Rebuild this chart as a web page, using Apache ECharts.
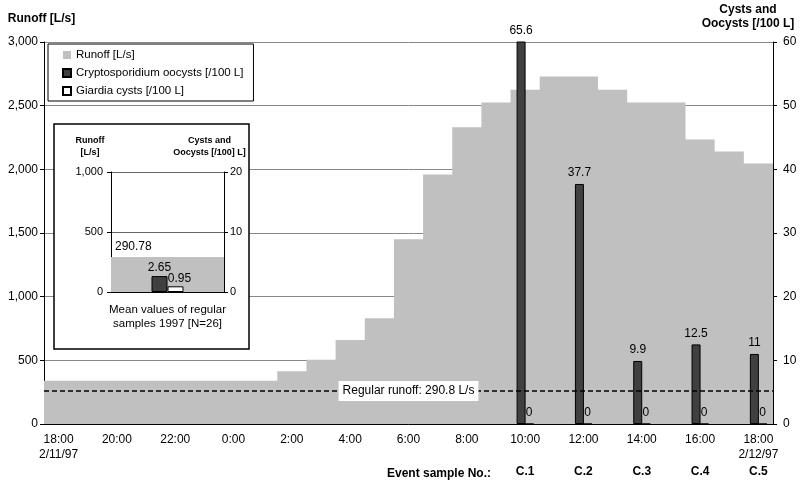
<!DOCTYPE html>
<html>
<head>
<meta charset="utf-8">
<script src="https://cdn.jsdelivr.net/npm/echarts@6/dist/echarts.min.js"></script>
<style>
  html, body { margin: 0; padding: 0; background: #fff; }
  #main { width: 800px; height: 486px; }
</style>
</head>
<body>
<div id="main"></div>
<script>
// hourly categories, 18:00 2/11/97 to 18:00 2/12/97
var hours = ['18:00\n2/11/97', '19:00', '20:00', '21:00', '22:00', '23:00', '0:00', '1:00',
  '2:00', '3:00', '4:00', '5:00', '6:00', '7:00', '8:00', '9:00', '10:00', '11:00',
  '12:00', '13:00', '14:00', '15:00', '16:00', '17:00', '18:00\n2/12/97'];
// runoff [L/s] per hour
var runoff = [340, 340, 340, 340, 340, 340, 340, 340,
  415, 505, 660, 830, 1450, 1960, 2330, 2525, 2625, 2730,
  2730, 2625, 2525, 2525, 2235, 2140, 2045];
// event samples
var sampleIdx = [16, 18, 20, 22, 24];
var sampleNames = ['C.1', 'C.2', 'C.3', 'C.4', 'C.5'];
var cryptoEvent = [65.6, 37.7, 9.9, 12.5, 11];
var giardiaEvent = [0, 0, 0, 0, 0];
// regular samples (inset)
var regularCategory = ['Mean values of regular\nsamples 1997 [N=26]'];
var regularRunoff = [290.78];
var regularCrypto = [2.65];
var regularGiardia = [0.95];
var regularLineValue = 260;
var regularLineText = 'Regular runoff: 290.8 L/s';

var names = ['Runoff [L/s]', 'Cryptosporidium oocysts [/100 L]', 'Giardia cysts [/100 L]'];
var FONT = 'Liberation Sans, Arial, sans-serif';

// put the event values into hourly slots
function toHourly(vals) {
  var arr = hours.map(function () { return null; });
  sampleIdx.forEach(function (idx, i) { arr[idx] = vals[i]; });
  return arr;
}
var eventLabels = hours.map(function () { return ''; });
sampleIdx.forEach(function (idx, i) { eventLabels[idx] = sampleNames[i]; });

// runoff as a step area over hour slots [i, i+1]
var runoffSteps = runoff.map(function (v, i) { return [i, v]; });
runoffSteps.push([runoff.length, runoff[runoff.length - 1]]);

var chart = echarts.init(document.getElementById('main'), null, { renderer: 'canvas' });

var gray = '#c0c0c0';
var dark = '#404040';

var option = {
  animation: false,
  textStyle: { fontFamily: FONT },
  legend: {
    left: 48,
    top: 44,
    orient: 'vertical',
    selectedMode: false,
    data: names,
    icon: 'rect',
    itemWidth: 8,
    itemHeight: 8,
    itemGap: 4,
    padding: [4, 10, 3, 14],
    backgroundColor: '#fff',
    borderColor: '#000',
    borderWidth: 1,
    textStyle: { fontSize: 11.5, color: '#000', lineHeight: 14, fontFamily: FONT },
    z: 5
  },
  grid: [
    { left: 44, right: 27, top: 42, bottom: 62, outerBoundsMode: 'none', containLabel: false },
    // inset
    { left: 111, right: 576, top: 172, bottom: 194, outerBoundsMode: 'none', containLabel: false }
  ],
  xAxis: [
    {
      type: 'category',
      gridIndex: 0,
      data: hours,
      boundaryGap: true,
      axisLine: { lineStyle: { color: '#000' } },
      axisTick: { interval: 0, length: 5, lineStyle: { color: '#000' } },
      axisLabel: { interval: 1, color: '#000', fontSize: 12, lineHeight: 15, margin: 8 },
      splitLine: { show: false },
      z: 3
    },
    {
      type: 'category',
      gridIndex: 0,
      data: hours,
      position: 'bottom',
      offset: 34,
      axisLine: { show: false },
      axisTick: { show: false },
      splitLine: { show: false },
      axisLabel: {
        interval: 0,
        color: '#000',
        fontSize: 12,
        fontWeight: 'bold',
        formatter: function (v, i) { return eventLabels[i]; }
      }
    },
    {
      type: 'category',
      gridIndex: 1,
      data: regularCategory,
      z: 3,
      axisLine: { lineStyle: { color: '#000' } },
      axisTick: { show: false },
      splitLine: { show: false },
      axisLabel: { color: '#000', fontSize: 11.5, lineHeight: 14, margin: 11 }
    },
    {
      type: 'category',
      gridIndex: 1,
      data: regularCategory,
      show: false
    },
    {
      // hour scale for the runoff steps
      type: 'value',
      gridIndex: 0,
      min: 0,
      max: hours.length,
      show: false
    }
  ],
  yAxis: [
    {
      type: 'value',
      gridIndex: 0,
      min: 0, max: 3000, interval: 500,
      name: 'Runoff [L/s]',
      nameGap: 17,
      nameTextStyle: { fontWeight: 'bold', fontSize: 12, color: '#000', align: 'center', padding: [0, 5, 0, 0] },
      axisLine: { show: true, lineStyle: { color: '#000' } },
      axisTick: { show: true, length: 4, lineStyle: { color: '#000' } },
      axisLabel: {
        color: '#000', fontSize: 12, margin: 6,
        formatter: function (v) { return v.toLocaleString('en-US'); }
      },
      splitLine: { lineStyle: { color: '#888' } }
    },
    {
      type: 'value',
      gridIndex: 0,
      min: 0, max: 60, interval: 10,
      position: 'right',
      z: 3,
      axisLine: { show: true, lineStyle: { color: '#000' } },
      axisTick: { show: true, length: 4, lineStyle: { color: '#000' } },
      axisLabel: { color: '#000', fontSize: 12, margin: 10 },
      splitLine: { show: false }
    },
    {
      type: 'value',
      gridIndex: 1,
      min: 0, max: 1000, interval: 500,
      z: 3,
      name: 'Runoff\n[L/s]',
      nameGap: 13,
      nameTextStyle: { fontWeight: 'bold', fontSize: 9, lineHeight: 12, color: '#000', align: 'center', padding: [0, 42, 0, 0] },
      axisLine: { show: true, lineStyle: { color: '#000' } },
      axisTick: { show: true, length: 4, lineStyle: { color: '#000' } },
      axisLabel: {
        color: '#000', fontSize: 11, margin: 8,
        formatter: function (v) { return v.toLocaleString('en-US'); }
      },
      splitLine: { lineStyle: { color: '#666' } }
    },
    {
      type: 'value',
      gridIndex: 1,
      min: 0, max: 20, interval: 10,
      position: 'right',
      z: 3,
      name: 'Cysts and\nOocysts [/100] L]',
      nameGap: 13,
      nameTextStyle: { fontWeight: 'bold', fontSize: 9, lineHeight: 12, color: '#000', align: 'center', padding: [0, 29, 0, 0] },
      axisLine: { show: true, lineStyle: { color: '#000' } },
      axisTick: { show: true, length: 4, lineStyle: { color: '#000' } },
      axisLabel: { color: '#000', fontSize: 11, margin: 6 },
      splitLine: { show: false }
    }
  ],
  graphic: [
    {
      type: 'rect',
      z: 1,
      shape: { x: 54, y: 124, width: 195, height: 225 },
      style: { fill: '#fff', stroke: '#000', lineWidth: 1.5 }
    },
    {
      type: 'text',
      z: 5,
      x: 748,
      y: 17,
      style: {
        text: 'Cysts and\nOocysts [/100 L]',
        fill: '#000',
        font: 'bold 12px ' + FONT,
        lineHeight: 14,
        textAlign: 'center',
        textVerticalAlign: 'middle'
      }
    },
    {
      type: 'text',
      z: 5,
      x: 491,
      y: 474,
      style: {
        text: 'Event sample No.:',
        fill: '#000',
        font: 'bold 12px ' + FONT,
        textAlign: 'right',
        textVerticalAlign: 'middle'
      }
    }
  ],
  series: [
    {
      name: names[0],
      type: 'line',
      xAxisIndex: 4,
      yAxisIndex: 0,
      z: 1,
      data: runoffSteps,
      step: 'end',
      symbol: 'none',
      lineStyle: { width: 0, color: gray },
      itemStyle: { color: gray },
      areaStyle: { color: gray, opacity: 1 },
      markLine: {
        silent: true,
        symbol: 'none',
        lineStyle: { color: '#000', type: [5, 3], width: 1.5 },
        label: {
          position: 'middle',
          distance: -10,
          formatter: regularLineText,
          color: '#000',
          fontSize: 12,
          backgroundColor: '#fff',
          padding: [4, 4, 4, 4]
        },
        data: [{ yAxis: regularLineValue }]
      }
    },
    {
      name: names[1],
      type: 'bar',
      xAxisIndex: 1,
      yAxisIndex: 1,
      z: 4,
      data: toHourly(cryptoEvent),
      barWidth: 9,
      barGap: '-10%',
      itemStyle: { color: dark, borderColor: '#000', borderWidth: 1 },
      label: { show: true, position: 'top', distance: 5, color: '#000', fontSize: 12 }
    },
    {
      name: names[2],
      type: 'bar',
      xAxisIndex: 1,
      yAxisIndex: 1,
      z: 4,
      data: toHourly(giardiaEvent),
      barWidth: 9,
      barGap: '-10%',
      itemStyle: { color: '#fff', borderColor: '#000', borderWidth: 1 },
      label: { show: true, position: 'top', distance: 5, color: '#000', fontSize: 12 }
    },
    // inset: mean values of regular samples
    {
      name: names[0],
      type: 'bar',
      xAxisIndex: 2,
      yAxisIndex: 2,
      z: 3,
      data: regularRunoff,
      barWidth: '100%',
      itemStyle: { color: gray },
      label: { show: true, position: [4, -16], color: '#000', fontSize: 12 }
    },
    {
      name: names[1],
      type: 'bar',
      xAxisIndex: 3,
      yAxisIndex: 3,
      z: 4,
      data: regularCrypto,
      barWidth: 16,
      barGap: 0,
      itemStyle: { color: dark, borderColor: '#000', borderWidth: 1 },
      label: { show: true, position: 'top', distance: 2, color: '#000', fontSize: 12 }
    },
    {
      name: names[2],
      type: 'bar',
      xAxisIndex: 3,
      yAxisIndex: 3,
      z: 4,
      data: regularGiardia,
      barWidth: 16,
      barGap: 0,
      itemStyle: { color: '#fff', borderColor: '#000', borderWidth: 1 },
      label: { show: true, position: 'top', distance: 2, offset: [4, 0], color: '#000', fontSize: 12 }
    }
  ]
};

chart.setOption(option);
</script>
</body>
</html>
